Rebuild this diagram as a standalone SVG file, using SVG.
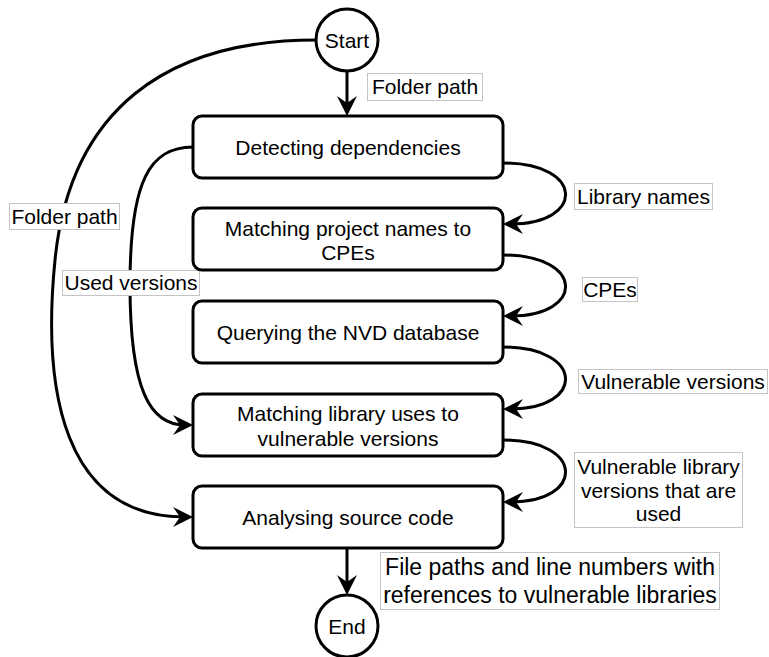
<svg xmlns="http://www.w3.org/2000/svg" width="769" height="657" viewBox="0 0 769 657">
  <style>
    .node { fill: #ffffff; stroke: #000000; stroke-width: 3; }
    .edge { fill: none; stroke: #000000; stroke-width: 3; }
    .txt { font-family: "Liberation Sans", Arial, Helvetica, sans-serif; font-size: 21px; fill: #000000; text-anchor: middle; }
    .big { font-size: 23px; }
    .lbl { fill: #ffffff; stroke: #c4c4c4; stroke-width: 1; }
  </style>
  <defs>
    <marker id="arrow" markerUnits="userSpaceOnUse" viewBox="0 0 20 20" markerWidth="20" markerHeight="20" refX="12" refY="10" orient="auto">
      <path d="M20,10 L0,0 L7,10 L0,20 Z" fill="#000000"/>
    </marker>
  </defs>

  <!-- connectors -->
  <g id="connectors">
    <path class="edge" d="M347,71 L347,108" marker-end="url(#arrow)"/>
    <path class="edge" d="M503,163 C585,163 585,224 511,224" marker-end="url(#arrow)"/>
    <path class="edge" d="M503,255 C585,255 585,316 511,316" marker-end="url(#arrow)"/>
    <path class="edge" d="M503,347 C585,347 585,409 511,409" marker-end="url(#arrow)"/>
    <path class="edge" d="M503,440 C585,440 585,502 511,502" marker-end="url(#arrow)"/>
    <path class="edge" d="M193,147 C150,147 130,180 130,285 C130,390 150,425 185,425" marker-end="url(#arrow)"/>
    <path class="edge" d="M316,40 C166,40 70,110 55,260 C42,390 63,517 185,517" marker-end="url(#arrow)"/>
    <path class="edge" d="M347,548 L347,587" marker-end="url(#arrow)"/>
  </g>

  <!-- connector labels -->
  <g id="edge-labels">
    <rect class="lbl" x="367.5" y="73.5" width="115" height="27"/>
    <text class="txt" x="425" y="94">Folder path</text>

    <rect class="lbl" x="574.5" y="183.5" width="138" height="26"/>
    <text class="txt" x="643.5" y="204">Library names</text>

    <rect class="lbl" x="582.5" y="277.5" width="55" height="24"/>
    <text class="txt" x="610" y="297">CPEs</text>

    <rect class="lbl" x="578.5" y="369.5" width="189" height="24"/>
    <text class="txt" x="673" y="389">Vulnerable versions</text>

    <rect class="lbl" x="574.5" y="452.5" width="168" height="75"/>
    <text class="txt" x="658.5" y="474">Vulnerable library</text>
    <text class="txt" x="658.5" y="497.5">versions that are</text>
    <text class="txt" x="658.5" y="521">used</text>

    <rect class="lbl" x="9.5" y="203.5" width="110" height="26"/>
    <text class="txt" x="64.5" y="224">Folder path</text>

    <rect class="lbl" x="62.5" y="270.5" width="137" height="25"/>
    <text class="txt" x="131" y="290">Used versions</text>

    <rect class="lbl" x="380.5" y="552.5" width="339" height="57"/>
    <text class="txt big" x="550" y="575">File paths and line numbers with</text>
    <text class="txt big" x="550" y="602.5">references to vulnerable libraries</text>
  </g>

  <!-- nodes -->
  <g id="start">
    <circle class="node" cx="347" cy="40" r="31"/>
    <text class="txt" x="347" y="47.5">Start</text>
  </g>
  <g id="detect">
    <rect class="node" x="193" y="116" width="310" height="62" rx="9"/>
    <text class="txt" x="348" y="155">Detecting dependencies</text>
  </g>
  <g id="match-cpe">
    <rect class="node" x="193" y="208" width="310" height="62" rx="9"/>
    <text class="txt" x="348" y="236">Matching project names to</text>
    <text class="txt" x="348" y="260">CPEs</text>
  </g>
  <g id="query-nvd">
    <rect class="node" x="193" y="301" width="310" height="62" rx="9"/>
    <text class="txt" x="348" y="340">Querying the NVD database</text>
  </g>
  <g id="match-versions">
    <rect class="node" x="193" y="394" width="310" height="62" rx="9"/>
    <text class="txt" x="348" y="421">Matching library uses to</text>
    <text class="txt" x="348" y="445.5">vulnerable versions</text>
  </g>
  <g id="analyse">
    <rect class="node" x="193" y="486" width="310" height="62" rx="9"/>
    <text class="txt" x="348" y="525">Analysing source code</text>
  </g>
  <g id="end">
    <circle class="node" cx="347" cy="626" r="31"/>
    <text class="txt" x="347" y="633.5">End</text>
  </g>
</svg>
